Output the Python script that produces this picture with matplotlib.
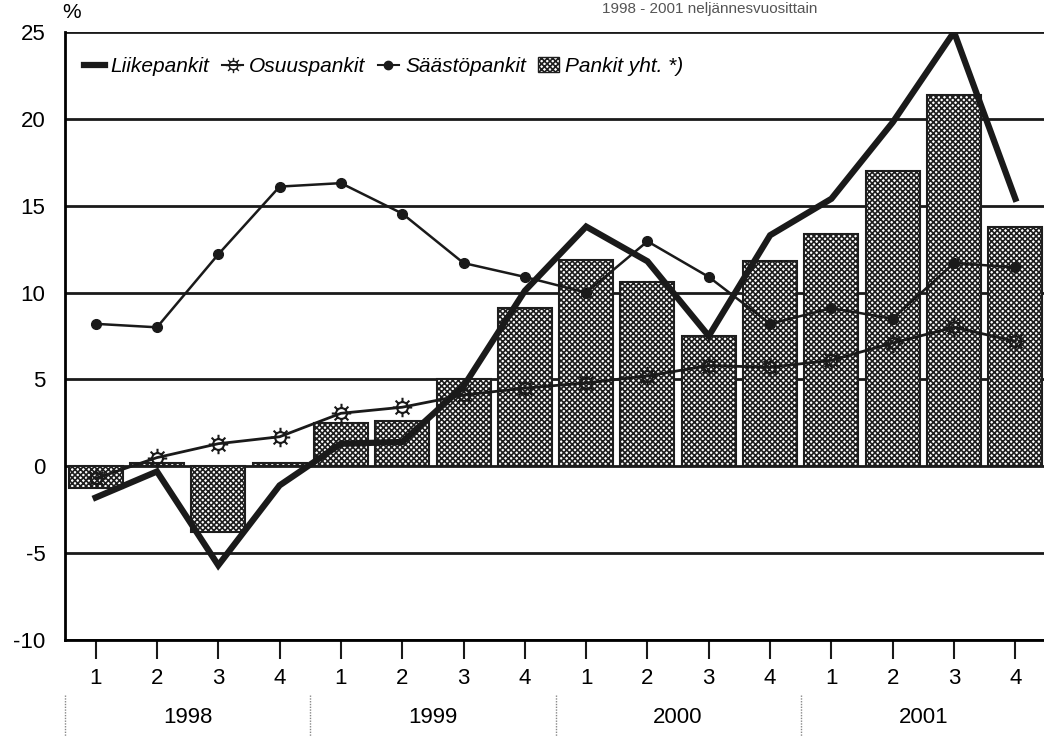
import numpy as np
import matplotlib
matplotlib.use("Agg")
import matplotlib.pyplot as plt
from matplotlib.path import Path
from matplotlib.patches import Patch
from matplotlib.lines import Line2D

# quarterly data 1998-2001, percent
years = ["1998", "1999", "2000", "2001"]
quarters = ["1", "2", "3", "4"] * 4
pankit_yht = [-1.25, 0.2, -3.8, 0.2, 2.5, 2.6, 5.0, 9.1,
              11.9, 10.6, 7.5, 11.8, 13.4, 17.0, 21.4, 13.8]
liikepankit = [-1.8, -0.3, -5.7, -1.1, 1.3, 1.4, 4.6, 10.1,
               13.8, 11.8, 7.5, 13.3, 15.4, 19.8, 25.0, 15.4]
osuuspankit = [-0.7, 0.5, 1.3, 1.7, 3.05, 3.4, 4.1, 4.5,
               4.8, 5.2, 5.8, 5.7, 6.1, 7.1, 8.0, 7.2]
saastopankit = [8.2, 8.0, 12.2, 16.1, 16.3, 14.55, 11.7, 10.9,
                10.0, 12.95, 10.9, 8.2, 9.1, 8.5, 11.7, 11.45]

plt.rcParams['font.family'] = ['Liberation Sans', 'DejaVu Sans']
plt.rcParams['hatch.linewidth'] = 1.2

# sun marker: circle with 8 short spikes
circ = Path.unit_circle()
spikes = []
for a in np.arange(8) * np.pi / 4:
    spikes.append(Path([(np.cos(a), np.sin(a)), (1.8 * np.cos(a), 1.8 * np.sin(a))],
                       [Path.MOVETO, Path.LINETO]))
sun = Path.make_compound_path(circ, *spikes)

fig = plt.figure(figsize=(10.44, 7.36), dpi=100)
ax = fig.add_axes([65 / 1044, 1 - 640 / 736, 981 / 1044, 608 / 736])

x = np.arange(len(pankit_yht))

ax.bar(x, pankit_yht, width=0.88, color='white', edgecolor='#1e1e1e',
       hatch='xxxxxx', linewidth=1.5, zorder=2)
ax.plot(x, liikepankit, color='#1a1a1a', lw=4.5, zorder=4, solid_joinstyle='miter')
ax.plot(x, osuuspankit, color='#1a1a1a', lw=2, marker=sun, markersize=14,
        markerfacecolor='none', markeredgecolor='#1a1a1a', markeredgewidth=1.5, zorder=3)
ax.plot(x, saastopankit, color='#1a1a1a', lw=1.8, marker='o', markersize=7, zorder=3)

ax.set_xlim(-0.5, 15.5)
ax.set_ylim(-10, 25)
ax.set_yticks(range(-10, 26, 5))
ax.set_yticklabels([str(v) for v in range(-10, 26, 5)], fontsize=16)
ax.tick_params(axis='y', length=0, pad=14)
ax.yaxis.grid(True, color='#1a1a1a', lw=2)
ax.set_axisbelow(True)

ax.set_xticks(x)
ax.set_xticklabels(quarters, fontsize=16)
ax.tick_params(axis='x', length=14, width=1.5, pad=6, direction='out', color='#1a1a1a')

for s in ['top', 'right']:
    ax.spines[s].set_visible(False)
ax.spines['left'].set_linewidth(2)
ax.spines['bottom'].set_linewidth(2)

# year labels and separators under the axis
for i, yr in enumerate(years):
    ax.text(i * 4 + 1.5, -0.128, yr, transform=ax.get_xaxis_transform(),
            ha='center', va='center', fontsize=16)
for b in [-0.5, 3.5, 7.5, 11.5]:
    ax.plot([b, b], [-0.09, -0.165], transform=ax.get_xaxis_transform(),
            color='#888888', lw=1, ls=(0, (1, 1)), clip_on=False)

fig.text(72 / 1044, 1 - 12 / 736, "%", fontsize=15, ha='center', va='center')
fig.text(0.68, 1 - 9 / 736, "1998 - 2001 neljännesvuosittain", fontsize=11,
         ha='center', va='center', color='#555555')

handles = [Line2D([], [], color='#1a1a1a', lw=4.5),
           Line2D([], [], color='#1a1a1a', lw=1.5, marker=sun, markersize=11,
                  markerfacecolor='none'),
           Line2D([], [], color='#1a1a1a', lw=1.5, marker='o', markersize=6),
           Patch(facecolor='white', edgecolor='#1e1e1e', hatch='xxxxxx')]
labels = ["Liikepankit", "Osuuspankit", "Säästöpankit", "Pankit yht. *)"]
ax.legend(handles, labels, loc='upper left', ncol=4, frameon=False,
          bbox_to_anchor=(0.0, 0.99), handlelength=1.0, handletextpad=0.3,
          columnspacing=0.6, prop={'style': 'italic', 'size': 15})

fig.savefig("out.png", dpi=100)
